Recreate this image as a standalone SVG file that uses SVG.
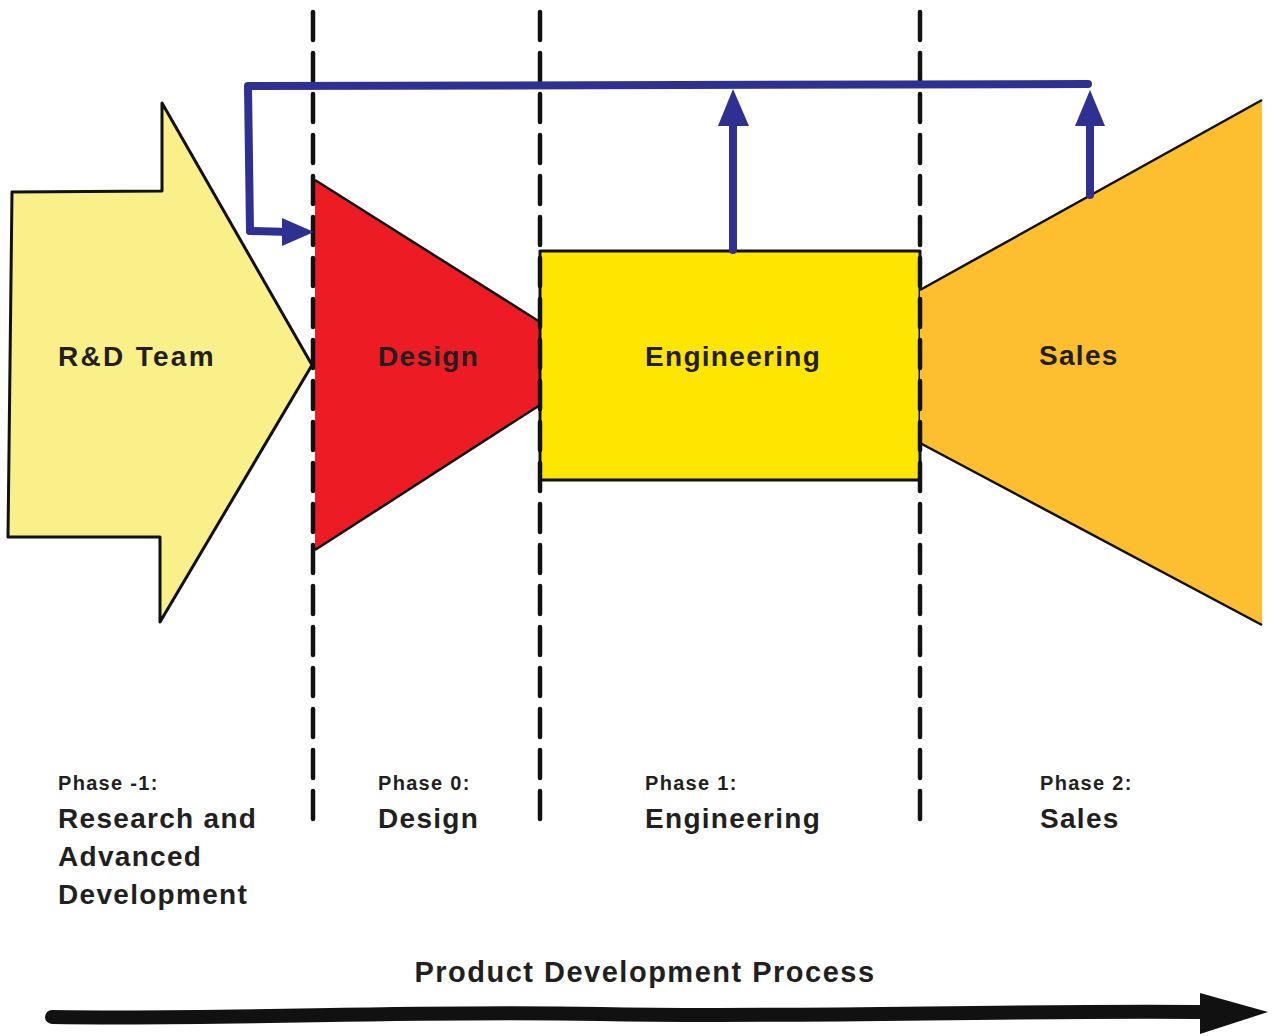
<svg xmlns="http://www.w3.org/2000/svg" width="1274" height="1036" viewBox="0 0 1274 1036">
<style>
  .lbl { font-family: "Liberation Sans", Arial, sans-serif; font-weight: bold; fill: #231f20; }
  .big { font-size: 28px; letter-spacing: 1.3px; }
  .wide { letter-spacing: 2.3px; }
  .small { font-size: 20px; letter-spacing: 1.3px; }
  .title { font-size: 29px; letter-spacing: 1.5px; }
  .outline { stroke: #111; stroke-width: 3; stroke-linejoin: round; }
  .dash { fill: none; stroke: #111; stroke-width: 4.5; stroke-dasharray: 28 13; stroke-linecap: round; }
  .blue { fill: none; stroke: #2E3192; stroke-width: 8; stroke-linejoin: round; stroke-linecap: round; }
  .bluehead { fill: #2E3192; }
</style>
<rect width="1274" height="1036" fill="#ffffff"/>

<g id="node-rd">
  <path class="outline" d="M12,192 L162,191 L162,103 L312,365 L160,622 L160,537 L8,537 Z" fill="#FAF08A"/>
  <text class="lbl big wide" x="58" y="366">R&amp;D Team</text>
</g>

<g id="node-design">
  <path d="M315,180 L540,322 L540,405 L315,550 Z" fill="#ED1C24"/>
  <path d="M315,180 L540,322 M540,405 L315,550" fill="none" stroke="#111" stroke-width="2.5"/>
  <text class="lbl big" x="378" y="366">Design</text>
</g>

<g id="node-engineering">
  <rect class="outline" x="540" y="251" width="380" height="229" fill="#FFE600"/>
  <text class="lbl big" x="645" y="366">Engineering</text>
</g>

<g id="node-sales">
  <path d="M920,290 L1262,100 L1262,625 L920,443 Z" fill="#FDBF2F"/>
  <path d="M920,290 L1262,100 M920,443 L1262,625" fill="none" stroke="#111" stroke-width="2.5"/>
  <text class="lbl big" x="1039" y="365">Sales</text>
</g>

<g id="phase-dividers">
  <path class="dash" d="M313,12 L313,828"/>
  <path class="dash" d="M540,12 L540,828"/>
  <path class="dash" d="M920,12 L920,828"/>
</g>

<g id="connectors">
  <path class="blue" d="M250,231 L248,86 L1088,84" />
  <path class="blue" d="M250,231 L290,232" />
  <path class="bluehead" d="M282,218 L314,232 L282,246 Z"/>
  <path class="blue" d="M733,250 L733,122" />
  <path class="bluehead" d="M718,126 L733,89 L749,126 Z"/>
  <path class="blue" d="M1090,195 L1090,122" />
  <path class="bluehead" d="M1075,126 L1090,90 L1105,126 Z"/>
</g>

<g id="phase-labels">
  <text class="lbl small" x="58" y="790">Phase -1:</text>
  <text class="lbl big" x="58" y="828">Research and</text>
  <text class="lbl big" x="58" y="866">Advanced</text>
  <text class="lbl big" x="58" y="904">Development</text>

  <text class="lbl small" x="378" y="790">Phase 0:</text>
  <text class="lbl big" x="378" y="828">Design</text>

  <text class="lbl small" x="645" y="790">Phase 1:</text>
  <text class="lbl big" x="645" y="828">Engineering</text>

  <text class="lbl small" x="1040" y="790">Phase 2:</text>
  <text class="lbl big" x="1040" y="828">Sales</text>
</g>

<g id="timeline">
  <text class="lbl title" x="645" y="982" text-anchor="middle">Product Development Process</text>
  <path d="M52,1017 C250,1020 400,1010 600,1014 C800,1018 1000,1010 1210,1012" fill="none" stroke="#111" stroke-width="14" stroke-linecap="round"/>
  <path d="M1200,993 L1268,1012 L1200,1034 Z" fill="#111"/>
</g>
</svg>
